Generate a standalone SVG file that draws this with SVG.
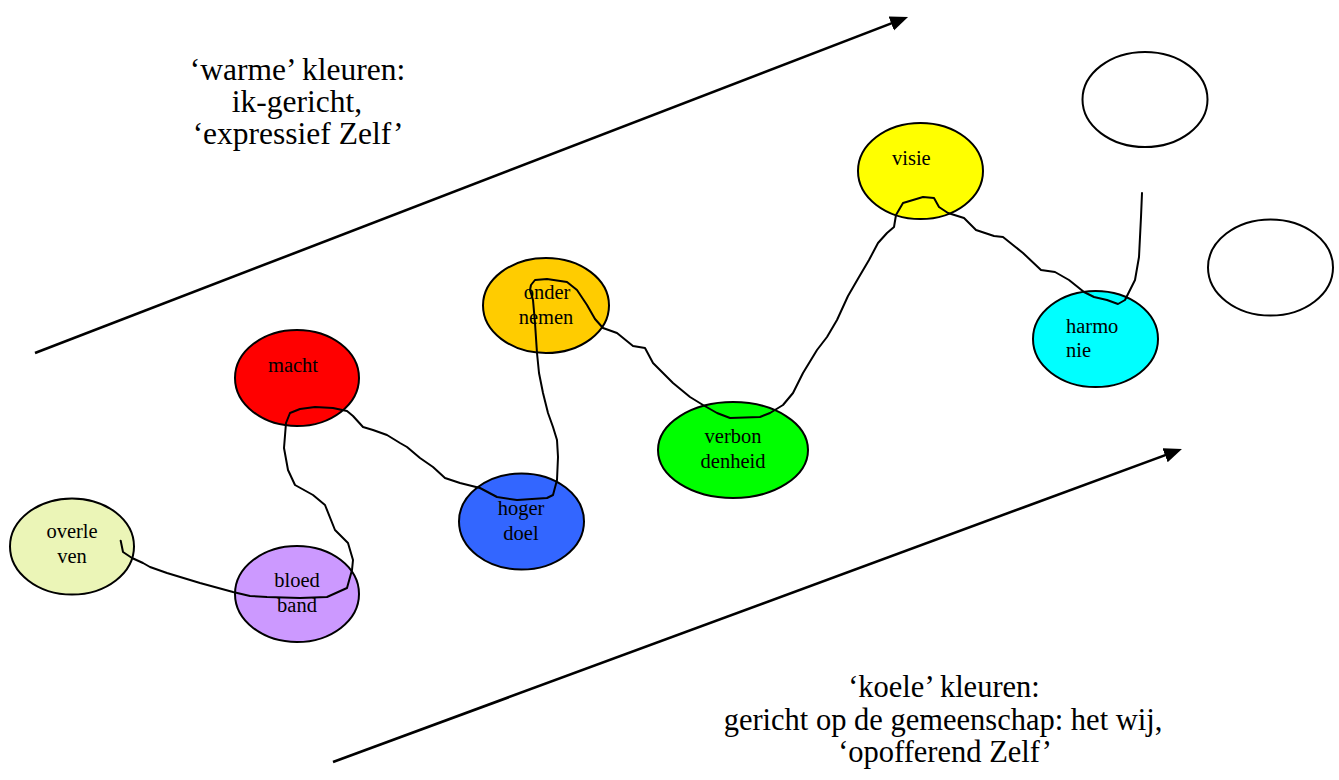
<svg xmlns="http://www.w3.org/2000/svg" width="1339" height="780" viewBox="0 0 1339 780">
<style>
.node ellipse{stroke:#000;stroke-width:2}
.lbl{font-family:"Liberation Serif","Times New Roman",serif;font-size:20.5px;fill:#000}
.big{font-family:"Liberation Serif","Times New Roman",serif;font-size:31.5px;fill:#000;text-anchor:middle}
.big2{font-family:"Liberation Serif","Times New Roman",serif;font-size:30.5px;fill:#000;text-anchor:middle}
.c{text-anchor:middle}
.arrow{stroke:#000;stroke-width:2.6;fill:none}
.free{stroke:#000;stroke-width:2;fill:none;stroke-linejoin:round;stroke-linecap:round}
</style>
<defs>
<marker id="ah" markerUnits="userSpaceOnUse" markerWidth="20" markerHeight="16" refX="14" refY="7.5" orient="auto" viewBox="0 0 20 16">
<path d="M0,0 L18,7.5 L0,15 Z" fill="#000"/>
</marker>
</defs>
<rect width="1339" height="780" fill="#fff"/>

<g id="text-warm">
<text class="big" x="297.5" y="80">‘warme’ kleuren:</text>
<text class="big" x="297" y="112">ik-gericht,</text>
<text class="big" x="298" y="144">‘expressief Zelf’</text>
</g>
<g id="text-koel">
<text class="big2" x="944" y="697">‘koele’ kleuren:</text>
<text class="big2" x="943" y="730">gericht op de gemeenschap: het wij,</text>
<text class="big2" x="945" y="762">‘opofferend Zelf’</text>
</g>

<g id="node-overleven" class="node">
<ellipse cx="72" cy="546.5" rx="62" ry="48" fill="#EBF5B7"/>
<text class="lbl c" x="72" y="538">overle</text>
<text class="lbl c" x="72" y="563">ven</text>
</g>
<g id="node-macht" class="node">
<ellipse cx="297" cy="378" rx="62" ry="48" fill="#FF0000"/>
<text class="lbl c" x="293" y="372">macht</text>
</g>
<g id="node-bloedband" class="node">
<ellipse cx="297" cy="594" rx="62" ry="48" fill="#CC99FF"/>
<text class="lbl c" x="297" y="587">bloed</text>
<text class="lbl c" x="297" y="612">band</text>
</g>
<g id="node-hogerdoel" class="node">
<ellipse cx="521.5" cy="521.5" rx="62.5" ry="48" fill="#3366FF"/>
<text class="lbl c" x="521" y="515">hoger</text>
<text class="lbl c" x="521" y="540">doel</text>
</g>
<g id="node-ondernemen" class="node">
<ellipse cx="546" cy="305.5" rx="63" ry="47.5" fill="#FFCC00"/>
<text class="lbl c" x="547" y="299">onder</text>
<text class="lbl c" x="546" y="324">nemen</text>
</g>
<g id="node-verbondenheid" class="node">
<ellipse cx="733" cy="450" rx="75" ry="48" fill="#00FF00"/>
<text class="lbl c" x="733" y="443">verbon</text>
<text class="lbl c" x="733" y="468">denheid</text>
</g>
<g id="node-visie" class="node">
<ellipse cx="920.5" cy="171" rx="62.5" ry="48" fill="#FFFF00"/>
<text class="lbl" x="892" y="165">visie</text>
</g>
<g id="node-harmonie" class="node">
<ellipse cx="1095.5" cy="339" rx="62.5" ry="48" fill="#00FFFF"/>
<text class="lbl" x="1066" y="333">harmo</text>
<text class="lbl" x="1066" y="357">nie</text>
</g>
<g id="node-empty1" class="node">
<ellipse cx="1145" cy="99.5" rx="62.5" ry="47.5" fill="#FFFFFF"/>
</g>
<g id="node-empty2" class="node">
<ellipse cx="1270.5" cy="267.5" rx="62.5" ry="48" fill="#FFFFFF"/>
</g>

<g id="connectors">
<line class="arrow" x1="35" y1="353" x2="904.3" y2="18.4" marker-end="url(#ah)"/>
<line class="arrow" x1="333" y1="762" x2="1178.2" y2="450.4" marker-end="url(#ah)"/>
<polyline class="free" points="120.7,540.7 123,552 132,558 143,563 150,567 167,573 200,583 233,592 250,596 267,597 300,598 327,597 347,588 352,570 353,560 348,543 335,530 325,505 313,495 295,485 288,470 284,448 286,423 290,413 300,409 315,407 333,408 347,411 353,416 363,427 373,430 387,435 400,443 407,447 420,458 433,467 445,478 460,483 480,488 497,497 517,500 547,498 553,495 557,480 558,457 557,440 553,427 548,413 543,393 539,373 537,353 535,323 533,300 530,290 531,285 535,280 547,279 567,282 577,290 587,305 595,319 603,328 617,333 633,346 645,348 653,363 667,377 673,383 690,397 703,405 717,413 730,418 760,417 770,413 783,405 793,393 803,373 817,350 827,337 837,320 848,296 859,277 869,260 878,243 887,233 894,227 896,215 903,203 923,197 934,198 939,207 948,213 964,218 976,230 994,236 1003,237 1023,253 1041,270 1055,272 1069,280 1084,292 1094,297 1107,300 1118,304 1125,300 1135,280 1139,257 1141,217 1142,193"/>
</g>
</svg>
